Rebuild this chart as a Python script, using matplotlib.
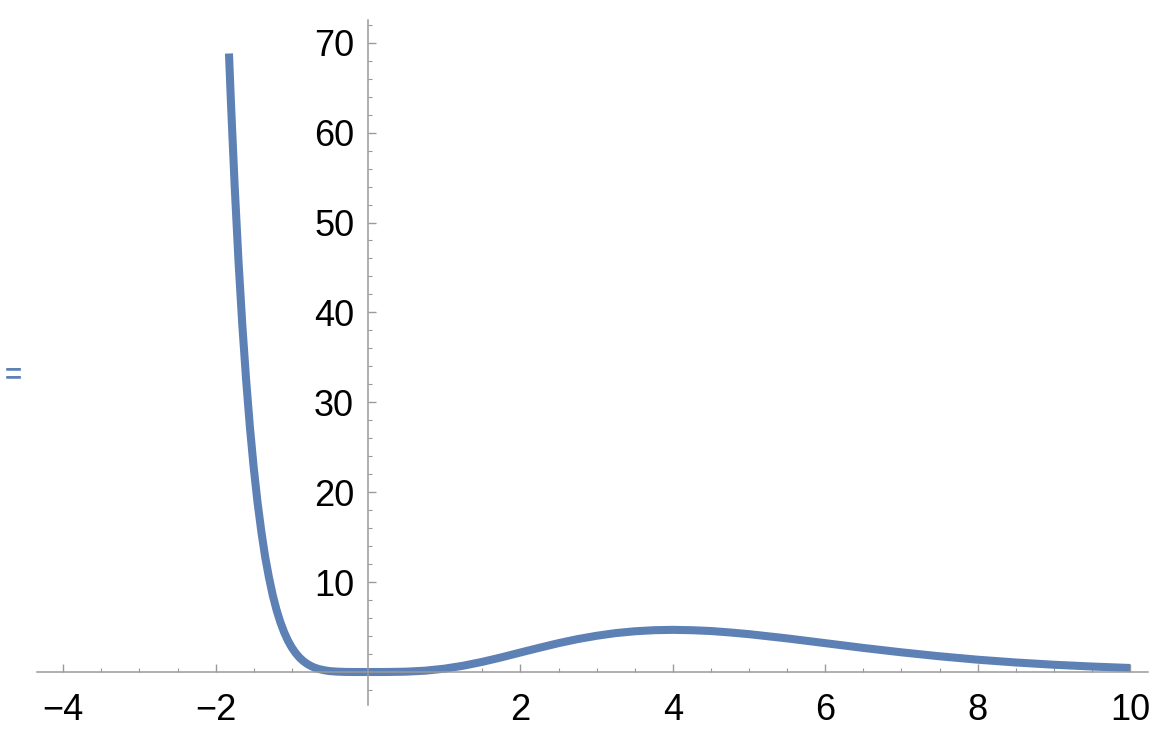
import matplotlib.pyplot as plt
import numpy as np

# Data
x = [-1.825, -1.8, -1.75, -1.7, -1.65, -1.6, -1.55, -1.5, -1.45, -1.4, -1.35, -1.3,
     -1.25, -1.2, -1.15, -1.1, -1.05, -1.0, -0.95, -0.9, -0.85, -0.8, -0.75, -0.7,
     -0.65, -0.6, -0.55, -0.5, -0.4, -0.3, -0.2, 0.0, 0.25, 0.5, 0.75, 1.0, 1.25,
     1.5, 1.75, 2.0, 2.25, 2.5, 2.75, 3.0, 3.25, 3.5, 3.75, 4.0, 4.25, 4.5, 4.75,
     5.0, 5.5, 6.0, 6.5, 7.0, 7.5, 8.0, 8.5, 9.0, 9.5, 10.0]
y = [68.8, 63.5, 54.0, 45.7, 38.6, 32.5, 27.2, 22.7, 18.85, 15.6, 12.8, 10.5,
     8.52, 6.88, 5.52, 4.40, 3.47, 2.72, 2.11, 1.61, 1.22, 0.91, 0.67, 0.48,
     0.34, 0.24, 0.16, 0.10, 0.04, 0.011, 0.002, 0.0, 0.003, 0.038, 0.149, 0.368, 0.70,
     1.13, 1.63, 2.17, 2.70, 3.21, 3.66, 4.03, 4.33, 4.53, 4.65, 4.69, 4.65, 4.56, 4.40,
     4.21, 3.74, 3.21, 2.68, 2.19, 1.75, 1.37, 1.06, 0.81, 0.61, 0.45]
x_ticks = [-4, -2, 2, 4, 6, 8, 10]
y_ticks = [10, 20, 30, 40, 50, 60, 70]

line_color = '#5E81B5'
axis_color = '#9a9a9a'
plt.rcParams['font.family'] = ['Liberation Sans', 'DejaVu Sans']

fig = plt.figure(figsize=(11.64, 7.46), dpi=100)
ax = fig.add_axes([0, 0, 1, 1])
ax.set_xlim(-4.83, 10.446)
ax.set_ylim(-8.23, 74.75)

# Plotting
ax.plot(x, y, color=line_color, lw=5.8, solid_capstyle='butt', solid_joinstyle='round')

# Customization: axes through the origin
for s in ['top', 'right']:
    ax.spines[s].set_visible(False)
ax.spines['left'].set_position(('data', 0))
ax.spines['bottom'].set_position(('data', 0))
ax.spines['left'].set_bounds(-3.7, 72.5)
ax.spines['bottom'].set_bounds(-4.35, 10.24)
for s in ['left', 'bottom']:
    ax.spines[s].set_color(axis_color)
    ax.spines[s].set_linewidth(1.1)

ax.set_xticks(x_ticks)
ax.set_xticklabels([f'\u2212{-v}' if v < 0 else str(v) for v in x_ticks])
ax.set_xticks(np.arange(-4, 10.01, 0.5), minor=True)
ax.set_yticks(y_ticks)
ax.set_yticklabels([str(v) for v in y_ticks])
ax.set_yticks(np.arange(-2, 72.1, 2), minor=True)

ax.tick_params(axis='both', which='major', direction='in', color=axis_color,
               length=5.5, width=1.0, labelsize=26, labelcolor='black')
ax.tick_params(axis='both', which='minor', direction='in', color=axis_color,
               length=3, width=0.8)
ax.tick_params(axis='x', which='major', pad=15)
ax.tick_params(axis='y', which='major', pad=10)

fig.text(0.004, 0.497, '=', color=line_color, fontsize=21, fontweight='bold',
         ha='left', va='center')

fig.savefig('out.png', dpi=100)
